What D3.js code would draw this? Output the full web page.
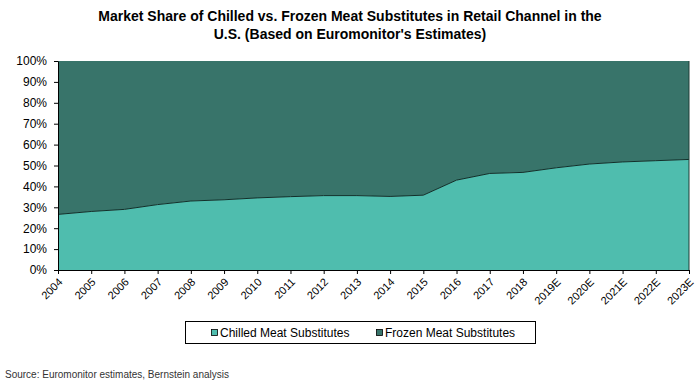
<!DOCTYPE html>
<html>
<head>
  <script src="https://d3js.org/d3.v7.min.js"></script>
  <style>
    body { margin: 0; background: #fff; }
    .axis text { font-family: "Liberation Sans", Arial, sans-serif; fill: #000; }
    .axis path, .axis line { stroke: #000; }
  </style>
</head>
<body>
  <div id="chart"></div>
  <script>
    // data
    var years = ["2004","2005","2006","2007","2008","2009","2010","2011","2012","2013",
                 "2014","2015","2016","2017","2018","2019E","2020E","2021E","2022E","2023E"];
    var chilled = [26.6, 28.0, 29.0, 31.3, 33.0, 33.6, 34.5, 35.1, 35.6, 35.6,
                   35.2, 35.8, 43.0, 46.2, 46.7, 48.9, 50.7, 51.7, 52.3, 52.9];
    var frozen = chilled.map(function(c) { return 100 - c; });
    var yTicks = [0,10,20,30,40,50,60,70,80,90,100];
    var seriesNames = ["Chilled Meat Substitutes", "Frozen Meat Substitutes"];
    var colors = ["#4fbdae", "#38746a"];

    var width = 700, height = 387;
    var margin = {top: 61, left: 58, right: 11, bottom: 117};

    var svg = d3.select("#chart").append("svg")
      .attr("width", width)
      .attr("height", height);

    var font = '"Liberation Sans", Arial, sans-serif';

    // title
    var title = svg.append("text")
      .attr("text-anchor", "middle")
      .attr("font-family", font)
      .attr("font-weight", "bold")
      .attr("font-size", "14px");
    title.append("tspan").attr("x", 350).attr("y", 21)
      .text("Market Share of Chilled vs. Frozen Meat Substitutes in Retail Channel in the");
    title.append("tspan").attr("x", 350).attr("y", 39)
      .text("U.S. (Based on Euromonitor's Estimates)");

    var xScale = d3.scalePoint()
      .domain(years)
      .range([margin.left, width - margin.right]);

    var yScale = d3.scaleLinear()
      .domain([0, 100])
      .range([height - margin.bottom, margin.top]);

    var rows = years.map(function(y, i) { return {year: y, chilled: chilled[i], frozen: frozen[i]}; });
    var stack = d3.stack().keys(["chilled", "frozen"])(rows);

    var area = d3.area()
      .x(function(d) { return xScale(d.data.year); })
      .y0(function(d) { return yScale(d[0]); })
      .y1(function(d) { return yScale(d[1]); });

    svg.selectAll(".layer")
      .data(stack)
      .enter()
      .append("path")
        .attr("class", "layer")
        .attr("d", area)
        .attr("fill", function(d, i) { return colors[i]; });

    // boundary line between the two areas
    svg.append("path")
      .datum(rows)
      .attr("fill", "none")
      .attr("stroke", "#10302a")
      .attr("stroke-width", 1)
      .attr("d", d3.line()
        .x(function(d) { return xScale(d.year); })
        .y(function(d) { return yScale(d.chilled); }));

    // right edge
    svg.append("line")
      .attr("x1", width - margin.right).attr("x2", width - margin.right)
      .attr("y1", yScale(0)).attr("y2", yScale(100))
      .attr("stroke", "#1e3c36");

    // axes
    svg.append("g")
      .attr("class", "axis")
      .attr("transform", "translate(" + margin.left + ",0)")
      .call(d3.axisLeft(yScale).tickValues(yTicks).tickSize(4).tickPadding(7).tickSizeOuter(0)
        .tickFormat(function(d) { return d + "%"; }))
      .selectAll("text").attr("font-size", "12px");

    var xAxis = svg.append("g")
      .attr("class", "axis")
      .attr("transform", "translate(0," + (height - margin.bottom) + ")")
      .call(d3.axisBottom(xScale).tickSize(4).tickSizeOuter(0));
    xAxis.selectAll("text")
      .attr("font-size", "11px")
      .attr("text-anchor", "end")
      .attr("x", 0)
      .attr("y", 0)
      .attr("dy", "0.35em")
      .attr("transform", "translate(2,10) rotate(-45)");

    // legend
    var legend = svg.append("g");
    legend.append("rect")
      .attr("x", 185.5).attr("y", 321.5)
      .attr("width", 350).attr("height", 22)
      .attr("fill", "#fff").attr("stroke", "#000");
    var legendX = [220, 385];
    seriesNames.forEach(function(name, i) {
      legend.append("rect")
        .attr("x", legendX[i] - 8.5).attr("y", 329.5)
        .attr("width", 6).attr("height", 6)
        .attr("fill", colors[i]).attr("stroke", "#000").attr("stroke-width", 0.8);
      legend.append("text")
        .attr("x", legendX[i]).attr("y", 337)
        .attr("font-family", font).attr("font-size", "12px")
        .text(name);
    });

    // source
    svg.append("text")
      .attr("x", 5).attr("y", 378)
      .attr("font-family", font).attr("font-size", "10px")
      .attr("fill", "#333")
      .text("Source: Euromonitor estimates, Bernstein analysis");
  </script>
</body>
</html>
